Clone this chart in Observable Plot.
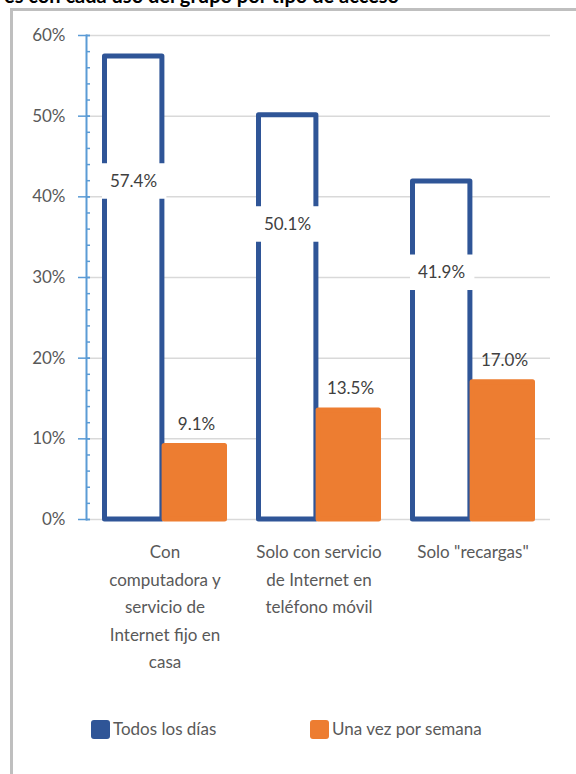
<!DOCTYPE html>
<html>
<head>
<meta charset="utf-8">
<script src="https://cdn.jsdelivr.net/npm/d3@7"></script>
<script src="https://cdn.jsdelivr.net/npm/@observablehq/plot@0.6"></script>
<style>
  body { margin: 0; background: #fff; }
  #wrap { position: relative; width: 576px; height: 774px; overflow: hidden; font-family: Lato, "Open Sans", sans-serif; background: #fff; }
  #frame { position: absolute; left: 10px; top: 8px; width: 600px; height: 800px; border-left: 3px solid #bfbfbf; border-top: 3px solid #bfbfbf; box-sizing: border-box; }
  #title { position: absolute; left: 4px; top: -15px; font: bold 20px Lato, sans-serif; line-height: 20px; color: #000; white-space: nowrap; }
  #chart { position: absolute; left: 0; top: 0; }
  .lg { position: absolute; top: 720px; font-size: 17px; color: #595959; line-height: 20px; white-space: nowrap; }
  .sw { position: absolute; width: 19px; height: 19px; border-radius: 3px; top: 0px; }
  .lt { position: absolute; left: 22px; top: -1px; }
</style>
</head>
<body>
<div id="wrap">
  <div id="title">es con cada uso del grupo por tipo de acceso</div>
  <div id="frame"></div>
  <div id="chart"></div>
  <div id="legend"></div>
</div>
<script>
const categories = ["Con computadora y servicio de Internet fijo en casa", "Solo con servicio de Internet en teléfono móvil", "Solo \"recargas\""];
const categoryLines = [
  ["Con", "computadora y", "servicio de", "Internet fijo en", "casa"],
  ["Solo con servicio", "de Internet en", "teléfono móvil"],
  ["Solo \"recargas\""]
];
const seriesNames = ["Todos los días", "Una vez por semana"];
const todosLosDias = [57.4, 50.1, 41.9];
const unaVezPorSemana = [9.1, 13.5, 17.0];
const yTicks = [0, 10, 20, 30, 40, 50, 60];
const yMinorTicks = d3.range(0, 61, 2);

const blue = "#2f5597", orange = "#ed7d31", axisBlue = "#5b9bd5";
const rows = categories.map((c, i) => ({cat: c, lines: categoryLines[i], daily: todosLosDias[i], weekly: unaVezPorSemana[i]}));
const half = 62.6;      // half of group band width in px
const labelPos = 0.73;  // relative height of the inside label
const boxHalf = 2.2;    // half height of label box (y units)
const fmt = v => v.toFixed(1) + "%";

const chart = Plot.plot({
  width: 576,
  height: 700,
  marginLeft: 86,
  marginRight: 26,
  marginTop: 35,
  marginBottom: 181,
  style: {fontFamily: "Lato, 'Open Sans', sans-serif", background: "transparent", overflow: "visible"},
  x: {type: "band", domain: categories, paddingInner: 0.19, paddingOuter: 0.095, axis: null},
  y: {domain: [0, 60]},
  marks: [
    Plot.gridY(yTicks, {stroke: "#d9d9d9", strokeOpacity: 1, strokeWidth: 1.5}),
    Plot.barY(rows, {x: "cat", y1: 0, y2: "daily", fill: "white", stroke: blue, strokeWidth: 5, strokeLinejoin: "round",
      insetLeft: 2.5, insetRight: half + 2.5}),
    Plot.barY(rows, {x: "cat", y1: 0, y2: "weekly", fill: orange, stroke: orange, strokeWidth: 5, strokeLinejoin: "round",
      insetLeft: half - 0.5, insetRight: 2.5}),
    Plot.frame({anchor: "left", stroke: axisBlue, strokeWidth: 2}),
    Plot.axisY({ticks: yMinorTicks, tickSize: 4, dx: 4, tickFormat: () => "", stroke: axisBlue, strokeWidth: 1.5, label: null}),
    Plot.axisY({ticks: yTicks, tickSize: 12, dx: 4, tickFormat: () => "", stroke: axisBlue, strokeWidth: 1.5, label: null}),
    Plot.axisY({ticks: yTicks, tickSize: 0, tickPadding: 21, tickFormat: d => d + "%", fontSize: 17, fill: "#595959", label: null}),
    Plot.barY(rows, {x: "cat", y1: d => d.daily * labelPos - boxHalf, y2: d => d.daily * labelPos + boxHalf, fill: "white",
      insetLeft: 0, insetRight: half - 2}),
    Plot.text(rows, {x: "cat", y: d => d.daily * labelPos, text: d => fmt(d.daily), dx: -31.5, fill: "#404040", fontSize: 17}),
    Plot.text(rows, {x: "cat", y: "weekly", text: d => fmt(d.weekly), dx: 31.5, dy: -22, fill: "#404040", fontSize: 17}),
    Plot.text(rows, {x: "cat", text: d => d.lines.join("\n"), frameAnchor: "bottom", lineAnchor: "top", dy: 19,
      lineHeight: 1.62, fontSize: 17, fill: "#595959"})
  ]
});
document.getElementById("chart").appendChild(chart);

const legend = document.getElementById("legend");
const colors = [blue, orange];
const lefts = [91, 310];
seriesNames.forEach((s, i) => {
  const item = document.createElement("div");
  item.className = "lg";
  item.style.left = lefts[i] + "px";
  item.innerHTML = `<span class="sw" style="background:${colors[i]}"></span><span class="lt">${s}</span>`;
  legend.appendChild(item);
});
</script>
</body>
</html>
